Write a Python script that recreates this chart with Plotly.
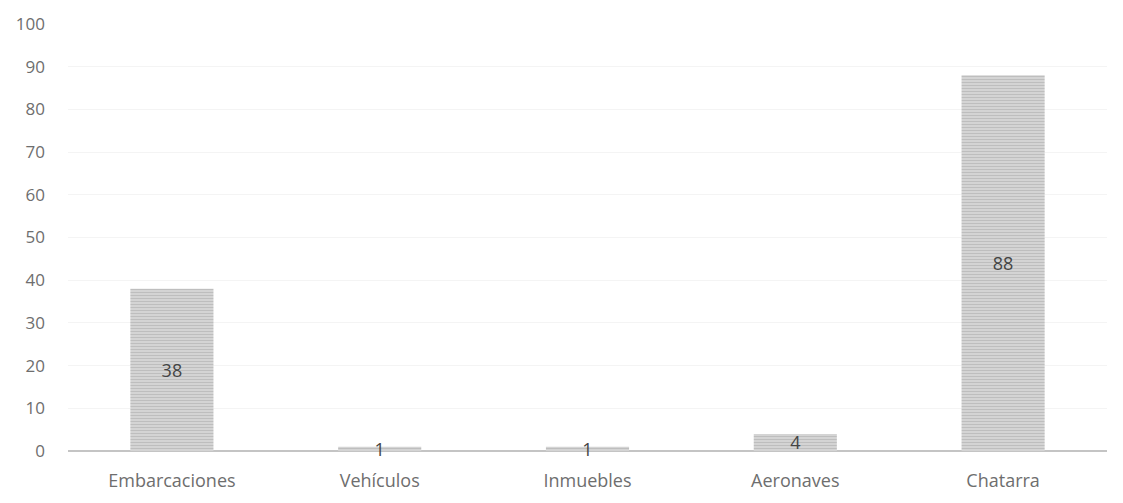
import plotly.graph_objects as go

categorias = ["Embarcaciones", "Vehículos", "Inmuebles", "Aeronaves", "Chatarra"]
valores = [38, 1, 1, 4, 88]
y_ticks = [0, 10, 20, 30, 40, 50, 60, 70, 80, 90, 100]

fig = go.Figure()

fig.add_trace(
    go.Bar(
        x=categorias,
        y=valores,
        text=valores,
        textposition="inside",
        insidetextanchor="middle",
        textangle=0,
        textfont=dict(size=18, color="#444444", family="Open Sans, sans-serif"),
        marker=dict(
            color="#cccccc",
            line=dict(width=0),
            pattern=dict(shape="-", fgcolor="#a6a6a6", bgcolor="#d6d6d6", size=3, solidity=0.4),
        ),
        width=0.4,
        cliponaxis=False,
    )
)

fig.update_layout(
    width=1123,
    height=503,
    margin=dict(l=68, r=16, t=24, b=52),
    plot_bgcolor="white",
    paper_bgcolor="white",
    showlegend=False,
    uniformtext=dict(minsize=18, mode="show"),
    font=dict(family="Open Sans, sans-serif", color="#6e6e6e", size=17),
)

# category labels sit well below the baseline
fig.update_xaxes(
    showgrid=False,
    showline=False,
    ticks="",
    ticklabelstandoff=17,
    tickfont=dict(size=18, color="#6e6e6e"),
)

fig.update_yaxes(
    range=[0, 100],
    tickvals=y_ticks,
    showgrid=True,
    gridcolor="#f4f4f4",
    zeroline=True,
    zerolinecolor="#c4c4c4",
    zerolinewidth=1.5,
    ticks="",
    ticklabelstandoff=22,
    tickfont=dict(size=17, color="#6e6e6e"),
)

fig.write_html(
    "out.html",
    config={"displayModeBar": False},
    post_script="document.body.style.margin='0';",
)
